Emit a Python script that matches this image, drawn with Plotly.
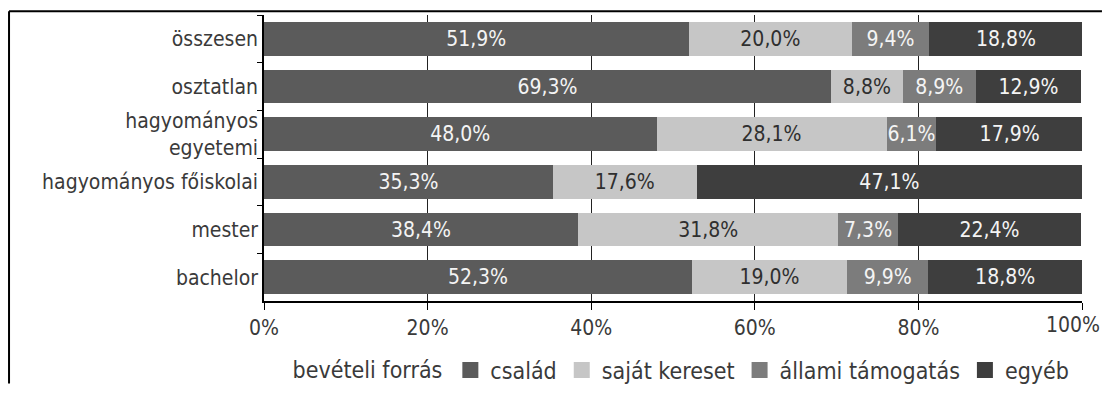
import plotly.graph_objects as go

categories = ["összesen", "osztatlan", "hagyományos<br>egyetemi", "hagyományos főiskolai", "mester", "bachelor"]
csalad = [51.9, 69.3, 48.0, 35.3, 38.4, 52.3]
sajat_kereset = [20.0, 8.8, 28.1, 17.6, 31.8, 19.0]
allami_tamogatas = [9.4, 8.9, 6.1, 0.0, 7.3, 9.9]
egyeb = [18.8, 12.9, 17.9, 47.1, 22.4, 18.8]
x_ticks = [0, 20, 40, 60, 80, 100]
x_tick_labels = ["0%", "20%", "40%", "60%", "80%", "100%"]
legend_title = "bevételi forrás"

series = [
    ("család", csalad, "#5b5b5b", "#f4f4f4"),
    ("saját kereset", sajat_kereset, "#c6c6c6", "#2f2f2f"),
    ("állami támogatás", allami_tamogatas, "#7c7c7c", "#f4f4f4"),
    ("egyéb", egyeb, "#3e3e3e", "#f4f4f4"),
]

FONT = "DejaVu Sans Condensed, Liberation Sans Narrow, Roboto, sans-serif"
FS = 21
LFS = 23


def fmt(v):
    return ("%.1f%%" % v).replace(".", ",") if v > 0 else ""


fig = go.Figure()
for name, vals, color, tcolor in series:
    fig.add_trace(go.Bar(
        y=categories, x=vals, name=name, orientation="h",
        marker=dict(color=color, line=dict(width=0)),
        text=[fmt(v) for v in vals],
        textposition="inside", insidetextanchor="middle", textangle=0,
        textfont=dict(color=tcolor, size=FS, family=FONT),
        hoverinfo="skip", showlegend=False,
    ))
# legend entries with large square swatches
for name, vals, color, tcolor in series:
    fig.add_trace(go.Scatter(
        x=[None], y=[None], mode="markers", name=name,
        marker=dict(symbol="square", size=18, color=color),
        hoverinfo="skip", showlegend=True,
    ))

# outer frame: only the top and left edges fall inside the picture
frame = dict(type="line", xref="paper", yref="paper",
             line=dict(color="black", width=2), layer="above")

# the last tick label would run past the figure edge, so it is placed as an
# annotation at the axis value, nudged left just enough to stay fully visible
tick_text_shown = x_tick_labels[:-1] + [""]

# the page body keeps its default 8px margin, so the figure sits at (8, 8)
fig.update_layout(
    barmode="stack",
    bargap=0.3,
    width=1094, height=391,
    margin=dict(l=256, r=20, t=7, b=86),
    paper_bgcolor="white", plot_bgcolor="white",
    font=dict(family=FONT, size=FS, color="#3a3a3a"),
    uniformtext=dict(minsize=FS, mode="show"),
    showlegend=True,
    legend=dict(
        orientation="h", x=0.0325, xanchor="left", y=-0.2415, yanchor="middle",
        title=dict(text=legend_title, side="left", font=dict(size=LFS)),
        font=dict(size=LFS), traceorder="normal", itemsizing="trace",
    ),
    xaxis=dict(
        range=[0, 100], tickvals=x_ticks, ticktext=tick_text_shown,
        showgrid=True, gridcolor="#222222", gridwidth=1,
        showline=True, linecolor="black", linewidth=1.5,
        ticks="outside", ticklen=7, tickcolor="black",
        zeroline=False, fixedrange=True,
    ),
    yaxis=dict(
        categoryorder="array", categoryarray=categories, autorange="reversed",
        showgrid=False, showline=True, linecolor="black", linewidth=1.5,
        ticks="outside", ticklen=5, tickcolor="black", tickson="boundaries",
        zeroline=False, fixedrange=True,
    ),
    annotations=[dict(
        x=x_ticks[-1], xref="x", y=0, yref="paper", text=x_tick_labels[-1],
        showarrow=False, xanchor="center", yanchor="top", yshift=-10, xshift=-9,
        font=dict(family=FONT, size=FS, color="#3a3a3a"),
    )],
    shapes=[
        dict(frame, x0=-0.3117, x1=1.0244, y0=1.0134, y1=1.0134),
        dict(frame, x0=-0.3117, x1=-0.3117, y0=-0.2886, y1=1.0134),
    ],
)

fig.write_html("out.html", config={"displayModeBar": False})
